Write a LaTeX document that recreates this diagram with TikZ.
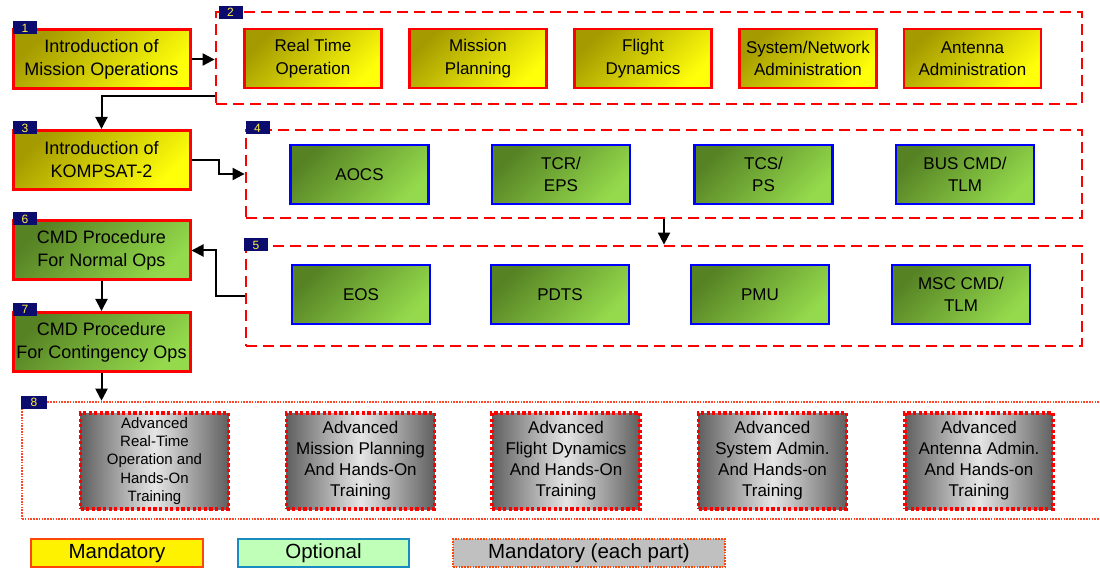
\documentclass[tikz,border=0pt]{standalone}
\usepackage{fontspec}
\setmainfont{Liberation Sans}
\usetikzlibrary{arrows.meta,calc}
\definecolor{ydark}{RGB}{165,155,0}
\definecolor{ylight}{RGB}{255,255,10}
\definecolor{gdark}{RGB}{86,130,36}
\definecolor{glight}{RGB}{148,218,76}
\definecolor{navybadge}{RGB}{12,12,110}
\definecolor{badgetext}{RGB}{255,240,60}
\definecolor{graydk}{RGB}{96,96,96}
\definecolor{graylt}{RGB}{230,230,230}
\definecolor{dotred}{RGB}{255,70,40}
\definecolor{legorange}{RGB}{255,70,10}
\definecolor{optfill}{RGB}{192,255,184}
\definecolor{optborder}{RGB}{24,140,192}
\definecolor{legray}{RGB}{192,192,192}
\begin{document}
\begin{tikzpicture}[x=1pt,y=-1pt,
  yfill/.style={top color=ydark, bottom color=ylight, shading angle=45},
  gfill/.style={top color=gdark, bottom color=glight, shading angle=45},
  mainbox/.style={draw=red, line width=3pt, minimum width=177pt, minimum height=59pt,
    inner sep=0pt, align=center, font=\fontsize{18}{23}\selectfont},
  ybox/.style={draw=red, line width=2.7pt, yfill, minimum width=137pt, minimum height=59pt,
    inner sep=0pt, align=center, font=\fontsize{17}{22.5}\selectfont},
  gbox/.style={draw=blue, line width=2.7pt, gfill, minimum width=138pt, minimum height=59pt,
    inner sep=0pt, align=center, font=\fontsize{17}{22}\selectfont},
  container/.style={draw=red, line width=2.8pt, dash pattern=on 11pt off 6pt, inner sep=0pt},
  badge/.style={fill=navybadge, text=badgetext, inner sep=0pt, minimum width=24pt,
    minimum height=13pt, font=\fontsize{12}{12}\selectfont},
  graybox/.style={draw=red, line width=3.6pt, dash pattern=on 3.2pt off 2.4pt,
    left color=graydk, right color=graydk, middle color=graylt,
    minimum width=148pt, minimum height=96pt, inner sep=0pt, align=center,
    font=\fontsize{17}{21}\selectfont},
  arr/.style={draw=black, line width=2pt, -{Triangle[length=12pt,width=12pt]}},
  legbox/.style={line width=2.7pt, minimum height=28pt, inner sep=0pt,
    font=\fontsize{20.5}{24}\selectfont}
]
\useasboundingbox (0,0) rectangle (1100,569);

% containers
\node[container, minimum width=866pt, minimum height=92pt] (c2) at (649,58) {};
\node[container, minimum width=836pt, minimum height=88pt] (c4) at (664,174) {};
\node[container, minimum width=836pt, minimum height=100pt] (c5) at (664,296) {};
\node[draw=dotred, line width=2.6pt, dash pattern=on 1.6pt off 1.2pt, inner sep=0pt,
      minimum width=1082pt, minimum height=117pt] (c8) at (563,460.5) {};

% left column
\node[mainbox, yfill] (b1) at (101.5,59.5) {Introduction of\\Mission Operations};
\node[mainbox, yfill] (b3) at (101.5,160) {Introduction of\\KOMPSAT-2};
\node[mainbox, gfill] (b6) at (101.5,250.5) {CMD Procedure\\For Normal Ops};
\node[mainbox, gfill] (b7) at (101.5,342) {CMD Procedure\\For Contingency Ops};

% box 2 items
\node[ybox] (rt) at (313,58.5) {Real Time\\Operation};
\node[ybox] (mp) at (478,58.5) {Mission\\Planning};
\node[ybox] (fd) at (643,58.5) {Flight\\Dynamics};
\node[ybox] (sn) at (808,58.5) {System/Network\\Administration};
\node[ybox] (aa) at (972.5,58.5) {Antenna\\Administration};

% box 4 items
\node[gbox] (aocs) at (359.5,174.5) {AOCS};
\node[gbox] (tcr) at (561,174.5) {TCR/\\EPS};
\node[gbox] (tcs) at (763.5,174.5) {TCS/\\PS};
\node[gbox] (bus) at (965,174.5) {BUS CMD/\\TLM};

% box 5 items
\node[gbox] (eos) at (361,294.5) {EOS};
\node[gbox] (pdts) at (560,294.5) {PDTS};
\node[gbox] (pmu) at (760,294.5) {PMU};
\node[gbox] (msc) at (961,294.5) {MSC CMD/\\TLM};

% box 8 items
\node[graybox, font=\fontsize{15}{18.3}\selectfont] (g1) at (154.5,461)
  {Advanced\\Real-Time\\Operation and\\Hands-On\\Training};
\node[graybox] (g2) at (360.5,461) {Advanced\\Mission Planning\\And Hands-On\\Training};
\node[graybox] (g3) at (566,461) {Advanced\\Flight Dynamics\\And Hands-On\\Training};
\node[graybox] (g4) at (772.5,461) {Advanced\\System Admin.\\And Hands-on\\Training};
\node[graybox] (g5) at (979,461) {Advanced\\Antenna Admin.\\And Hands-on\\Training};

% badges
\node[badge] (n1) at (25,28) {1};
\node[badge] (n2) at (230.5,12.5) {2};
\node[badge] (n3) at (25,128) {3};
\node[badge] (n4) at (257.5,128) {4};
\node[badge] (n5) at (256,245) {5};
\node[badge] (n6) at (25,219) {6};
\node[badge] (n7) at (25,309) {7};
\node[badge, minimum width=26pt] (n8) at (34,402.5) {8};

% connectors
\draw[arr] (b1.east) -- (b1.east -| c2.west);
\draw[arr] ($(c2.south west)+(0,-9)$) -| (b3.north);
\draw[arr] (b3.east) -- ++(27,0) |- (c4.west);
\draw[arr] (c4.south) -- (c5.north);
\draw[arr] (c5.west) -- ++(-29,0) |- (b6.east);
\draw[arr] (b6.south) -- (b7.north);
\draw[arr] (b7.south) -- (b7.south |- c8.north);

% legend
\node[legbox, draw=legorange, fill=yellow, minimum width=172pt] (l1) at (117,553) {Mandatory};
\node[legbox, draw=optborder, fill=optfill, minimum width=171pt] (l2) at (323.5,553) {Optional};
\node[legbox, draw=legorange, line width=2.4pt, dash pattern=on 1.6pt off 1.2pt, fill=legray,
      minimum width=272pt] (l3) at (589,553) {Mandatory (each part)};
\end{tikzpicture}
\end{document}
